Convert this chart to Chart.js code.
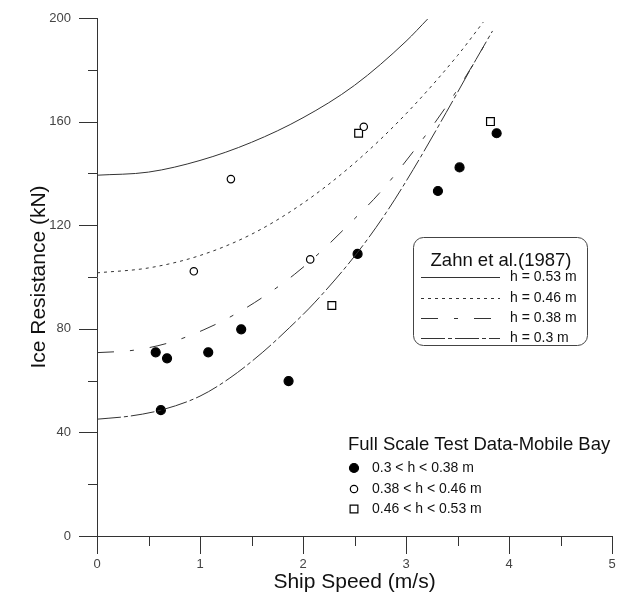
<!DOCTYPE html>
<html>
<head>
<meta charset="utf-8">
<script src="https://cdn.jsdelivr.net/npm/chart.js@4.4.1/dist/chart.umd.min.js"></script>
<style>
  html, body { margin: 0; padding: 0; background: #fff; }
  #box { width: 622px; height: 603px; }
</style>
</head>
<body>
<div id="box"><canvas id="grafico" width="622" height="603"></canvas></div>
<script>
// ================= DATA =================
// Zahn et al. (1987) curves
const vel053 = [0, 0.5, 1.0, 1.5, 2.0, 2.5, 3.0, 3.21];
const res053 = [139.3, 140.5, 145, 152, 161.5, 174, 191, 199.6];

const vel046 = [0, 0.5, 1.0, 1.5, 2.0, 2.5, 3.0, 3.5, 3.75];
const res046 = [101.6, 103.5, 108.3, 116.5, 128.5, 144, 163, 185.5, 198.4];

const vel038 = [0, 0.35, 0.69, 1.03, 1.34, 1.64, 1.92, 2.19, 2.45, 2.74, 3.07, 3.39, 3.68, 3.81];
const res038 = [70.8, 71.7, 74.5, 79.5, 85.6, 93, 101.1, 110.4, 120.5, 132.3, 148.4, 165.8, 183.9, 193];

const vel030 = [0, 0.32, 0.62, 1.0, 1.29, 1.61, 1.87, 2.11, 2.53, 2.81, 3.07, 3.39, 3.68, 3.84];
const res030 = [45.1, 46.3, 48.6, 54, 61, 71, 80.5, 90, 109.5, 125, 141.5, 163.5, 184, 195];

// Full scale test data - Mobile Bay
const velA = [0.57, 0.62, 0.68, 1.08, 1.40, 1.86, 2.53, 3.31, 3.52, 3.88];
const resA = [70.9, 48.6, 68.6, 70.9, 79.8, 59.8, 108.9, 133.2, 142.3, 155.5];
const velB = [0.94, 1.30, 2.07, 2.59];
const resB = [102.2, 137.8, 106.8, 158];
const velC = [2.28, 2.54, 3.82];
const resC = [89, 155.5, 160];

const curveLabels = ["h = 0.53 m", "h = 0.46 m", "h = 0.38 m", "h = 0.3 m"];
const pointLabels = ["0.3 < h < 0.38 m", "0.38 < h < 0.46 m", "0.46 < h < 0.53 m"];
const curveTitle = "Zahn et al.(1987)";
const pointTitle = "Full Scale Test Data-Mobile Bay";

const FONT = 'Arial, "Liberation Sans", sans-serif';
const INK = "#333";

const pares = (xs, ys) => xs.map((x, i) => ({ x: x, y: ys[i] }));

const curva = (label, xs, ys, dash) => ({
  label, data: pares(xs, ys), showLine: true, borderColor: INK, borderWidth: 1,
  borderDash: dash, pointRadius: 0, cubicInterpolationMode: "monotone", kind: "curve"
});

const pontos = (label, xs, ys, style, fill, r) => ({
  label, data: pares(xs, ys), showLine: false, pointStyle: style, pointRadius: r,
  pointHoverRadius: r, pointBackgroundColor: fill, pointBorderColor: "#000",
  pointBorderWidth: 1.2, kind: "points"
});

// ================= LEGENDS + TICKS =================
const extras = {
  id: "extras",
  afterDraw(chart) {
    const c = chart.ctx;
    const xs = chart.scales.x, ys = chart.scales.y;
    const area = chart.chartArea;
    c.save();
    c.strokeStyle = INK;
    c.lineWidth = 1;

    // tick marks (major longer than minor)
    xs.ticks.forEach(t => {
      const px = Math.round(xs.getPixelForValue(t.value)) + 0.5;
      const len = Number.isInteger(t.value) ? 18 : 10;
      c.beginPath(); c.moveTo(px, area.bottom); c.lineTo(px, area.bottom + len); c.stroke();
    });
    ys.ticks.forEach(t => {
      const py = Math.round(ys.getPixelForValue(t.value)) + 0.5;
      const len = t.value % 40 === 0 ? 18 : 9;
      c.beginPath(); c.moveTo(area.left, py); c.lineTo(area.left - len, py); c.stroke();
    });

    // Zahn legend box
    c.strokeStyle = "#444";
    c.beginPath();
    c.roundRect(413.5, 237.5, 174, 108, 10);
    c.stroke();
    c.fillStyle = "#111";
    c.font = "18.5px " + FONT;
    c.textAlign = "center";
    c.textBaseline = "middle";
    c.fillText(curveTitle, 501, 261);

    const curvas = chart.data.datasets.filter(d => d.kind === "curve");
    const rowsY = [277, 298, 318, 338];
    c.font = "14px " + FONT;
    c.textAlign = "left";
    curvas.forEach((d, i) => {
      c.strokeStyle = INK;
      c.setLineDash(d.borderDash || []);
      c.beginPath(); c.moveTo(421, rowsY[i] + 0.5); c.lineTo(500, rowsY[i] + 0.5); c.stroke();
      c.setLineDash([]);
      c.fillText(curveLabels[i], 510, rowsY[i]);
    });

    // test data legend
    c.font = "18.5px " + FONT;
    c.fillText(pointTitle, 348, 445);
    const pts = chart.data.datasets.filter(d => d.kind === "points");
    const prow = [468, 489, 509];
    c.font = "14px " + FONT;
    pts.forEach((d, i) => {
      c.fillStyle = d.pointBackgroundColor;
      c.strokeStyle = "#000";
      c.lineWidth = d.pointBorderWidth;
      Chart.helpers.drawPoint(c, { pointStyle: d.pointStyle, radius: d.pointRadius, rotation: 0, borderWidth: d.pointBorderWidth }, 354, prow[i]);
      c.fillStyle = "#111";
      c.fillText(pointLabels[i], 372, prow[i]);
    });
    c.restore();
  }
};

// ================= CHART =================
const ctx = document.getElementById("grafico").getContext("2d");

new Chart(ctx, {
  type: "scatter",
  data: {
    datasets: [
      curva(curveLabels[0], vel053, res053, []),
      curva(curveLabels[1], vel046, res046, [3, 4]),
      curva(curveLabels[2], vel038, res038, [17, 16, 4, 16]),
      curva(curveLabels[3], vel030, res030, [24, 3, 4, 3]),
      pontos(pointLabels[0], velA, resA, "circle", "#000", 4.5),
      pontos(pointLabels[1], velB, resB, "circle", "#fff", 3.7),
      pontos(pointLabels[2], velC, resC, "rect", "#fff", 5.5)
    ]
  },
  options: {
    responsive: false,
    animation: false,
    layout: { padding: { left: 0, top: 18, right: 10, bottom: 0 } },
    plugins: { legend: { display: false }, tooltip: { enabled: false } },
    scales: {
      x: {
        type: "linear", min: 0, max: 5,
        afterFit: s => { s.height = 67; s.paddingLeft = 0; s.paddingRight = 5; },
        grid: { display: false, drawTicks: false },
        border: { display: true, color: INK, width: 1 },
        ticks: {
          stepSize: 0.5, padding: 21, color: "#444", font: { family: FONT, size: 13 },
          maxRotation: 0, autoSkip: false,
          callback: v => Number.isInteger(v) ? v : ""
        },
        title: { display: true, text: "Ship Speed (m/s)", color: "#111",
          font: { family: FONT, size: 21 }, padding: { top: 0, bottom: 8 } }
      },
      y: {
        min: 0, max: 200,
        afterFit: s => { s.width = 97; s.paddingTop = 0; s.paddingBottom = 0; },
        grid: { display: false, drawTicks: false },
        border: { display: true, color: INK, width: 1 },
        ticks: {
          stepSize: 20, padding: 26, color: "#444", font: { family: FONT, size: 13 },
          autoSkip: false,
          callback: v => v % 40 === 0 ? v : ""
        },
        title: { display: true, text: "Ice Resistance (kN)", color: "#111",
          font: { family: FONT, size: 21 }, padding: { top: 27, bottom: 0 } }
      }
    }
  },
  plugins: [extras]
});
</script>
</body>
</html>
